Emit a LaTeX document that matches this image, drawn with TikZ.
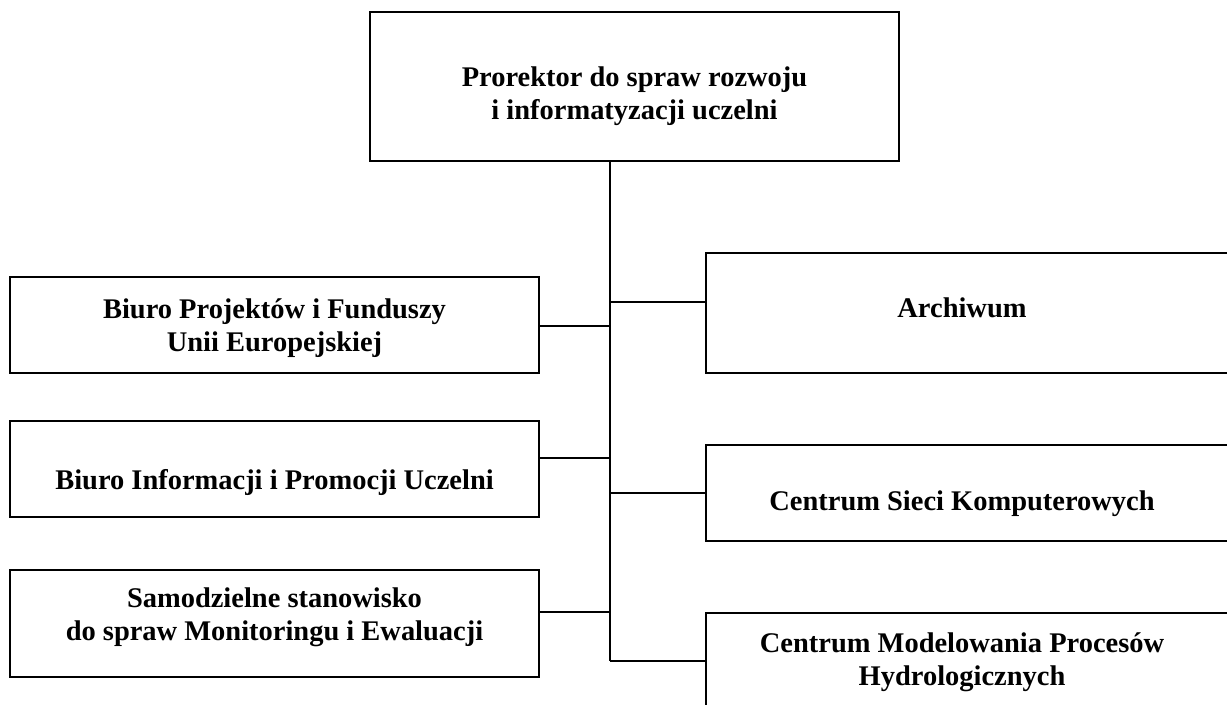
\documentclass[tikz,border=0pt]{standalone}
\usepackage{fontspec}
\setmainfont{Liberation Serif}
\usepackage{tikz}
\usetikzlibrary{positioning}
\newcommand{\padtop}[1]{\rule{0pt}{#1}}
\newcommand{\padbot}[1]{\rule[-#1]{0pt}{0pt}}
\newcommand{\rpad}{\hspace*{2.8mm}}

\begin{document}
\begin{tikzpicture}[x=0.02cm,y=-0.02cm,line width=1.1pt,
  unitbox/.style={draw,rectangle,inner sep=0pt,align=center,minimum width=10.58cm,
    font=\fontsize{16.2}{18.8}\selectfont\bfseries},
  sidebox/.style={unitbox,minimum width=10.52cm}]
\useasboundingbox (0,0) rectangle (1227,704);
% ---------- head ----------
\node[unitbox,minimum height=2.98cm] (head) at (634.5,86.5) {\padtop{0.79cm}Prorektor do spraw rozwoju\\ i informatyzacji uczelni};
% ---------- left column ----------
\node[unitbox,minimum height=1.92cm] (biuroP) at (274.5,325) {\padtop{0.53cm}Biuro Projektów i Funduszy\\ Unii Europejskiej};
\node[unitbox,minimum height=1.92cm] (biuroI) at (274.5,469) {\padtop{0.95cm}Biuro Informacji i Promocji Uczelni};
\node[unitbox,minimum height=2.14cm] (stanow) at (274.5,623.5) {Samodzielne stanowisko\\ do spraw Monitoringu i Ewaluacji\padbot{0.37cm}};
% ---------- right column ----------
\node[sidebox,minimum height=2.4cm] (archiw) at (969,313) {Archiwum\rpad\padbot{0.2cm}};
\node[sidebox,minimum height=1.92cm] (sieci) at (969,493) {\padtop{0.83cm}Centrum Sieci Komputerowych\rpad};
\node[sidebox,minimum height=1.98cm] (hydro) at (969,662.5) {Centrum Modelowania Procesów\rpad\\ Hydrologicznych\rpad};
% ---------- spine ----------
\coordinate (spine) at (610,661);
\coordinate (sP) at (610,326);
\coordinate (sI) at (610,458);
\coordinate (sS) at (610,612);
\coordinate (sA) at (610,302);
\coordinate (sC) at (610,493);
\draw (head.south -| spine) -- (spine);
\draw (biuroP.east |- sP) -- (sP);
\draw (biuroI.east |- sI) -- (sI);
\draw (stanow.east |- sS) -- (sS);
\draw (sA) -- (archiw.west |- sA);
\draw (sC) -- (sieci.west |- sC);
\draw (spine) -- (hydro.west |- spine);
\end{tikzpicture}
\end{document}
